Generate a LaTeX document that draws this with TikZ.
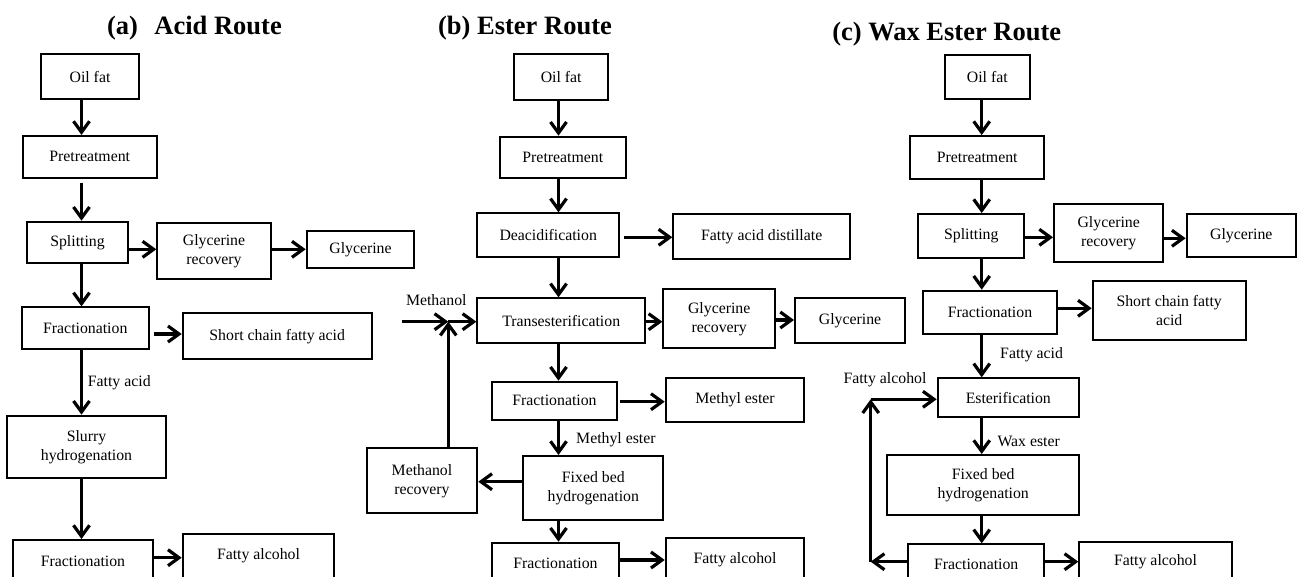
\documentclass[tikz,border=0pt]{standalone}
\usepackage{fontspec}
\setmainfont{Liberation Serif}
\usetikzlibrary{arrows.meta}
\tikzset{
  box/.style={draw, line width=2pt, inner sep=0pt, align=center, font=\fontsize{15.8}{19}\selectfont},
  arr/.style={line width=3.2pt, -{Straight Barb[length=11pt,width=16pt]}},
  lbl/.style={inner sep=0pt, font=\fontsize{15.8}{19}\selectfont},
  ttl/.style={inner sep=0pt, anchor=base, font=\fontsize{26.5}{30}\selectfont\bfseries},
}
\begin{document}
\begin{tikzpicture}[x=1pt,y=-1pt]
\clip (0,0) rectangle (1300,576);
\fill[white] (0,0) rectangle (1300,576);

% ---------- titles
\node[ttl] (ta) at (194.5,34.3) {(a)\hspace{0.62em}Acid Route};
\node[ttl] (tb) at (525,34.3) {(b) Ester Route};
\node[ttl] (tc) at (946.7,40.7) {(c) Wax Ester Route};

% ---------- (a) Acid route
\node[box, minimum width=98pt,  minimum height=45pt]   (a1) at (90,76.7)   {Oil fat};
\node[box, minimum width=134pt, minimum height=41.7pt] (a2) at (89.7,156.8) {Pretreatment};
\node[box, minimum width=101.6pt, minimum height=41.6pt] (a3) at (77.5,242.5) {Splitting};
\node[box, minimum width=113.4pt, minimum height=56.3pt] (a4) at (214,250.8) {Glycerine\\recovery};
\node[box, minimum width=107.6pt, minimum height=37.3pt] (a5) at (360.5,249.7) {Glycerine};
\node[box, minimum width=127.3pt, minimum height=41.7pt] (a6) at (85.3,328.2) {Fractionation};
\node[box, minimum width=189pt, minimum height=46pt]   (a7) at (277.2,336.3) {Short chain fatty acid};
\node[box, minimum width=158.4pt, minimum height=62.6pt] (a8) at (86.5,447) {Slurry\\hydrogenation};
\node[box, minimum width=139.4pt, minimum height=42pt] (a9) at (83,561) {Fractionation};
\node[box, minimum width=151.6pt, minimum height=44pt] (a10) at (258.5,556) {Fatty alcohol};
\node[lbl, anchor=west] (la1) at (87.7,383) {Fatty acid};

\coordinate (xa) at (81.5,0);
\coordinate (ya34) at (0,249.3);
\coordinate (ya67) at (0,334);
\coordinate (ya910) at (0,557.7);
\draw[arr] (a1.south -| xa) -- (a2.north -| xa);
\draw[arr] ([yshift=-4pt]a2.south -| xa) -- (a3.north -| xa);
\draw[arr] (a3.south -| xa) -- (a6.north -| xa);
\draw[arr] (a6.south -| xa) -- (a8.north -| xa);
\draw[arr] (a8.south -| xa) -- (a9.north -| xa);
\draw[arr] (a3.east |- ya34) -- (a4.west |- ya34);
\draw[arr] (a4.east |- ya34) -- (a5.west |- ya34);
\draw[arr] ([xshift=4pt]a6.east |- ya67) -- (a7.west |- ya67);
\draw[arr] (a9.east |- ya910) -- (a10.west |- ya910);

% ---------- (b) Ester route
\node[box, minimum width=94.3pt,  minimum height=45.7pt] (b1) at (561.2,77.2) {Oil fat};
\node[box, minimum width=125.7pt, minimum height=41.6pt] (b2) at (562.8,157.5) {Pretreatment};
\node[box, minimum width=141.7pt, minimum height=43.4pt] (b3) at (548.2,235) {Deacidification};
\node[box, minimum width=176.7pt, minimum height=45pt]   (b4) at (761.7,236.8) {Fatty acid distillate};
\node[box, minimum width=167.7pt, minimum height=45pt]   (b5) at (561.2,320.8) {Transesterification};
\node[box, minimum width=111.7pt, minimum height=59pt]   (b6) at (719.2,318.8) {Glycerine\\recovery};
\node[box, minimum width=110pt,   minimum height=45pt]   (b7) at (850,320.8) {Glycerine};
\node[box, minimum width=125.6pt, minimum height=38.3pt] (b8) at (554.5,400.8) {Fractionation};
\node[box, minimum width=138.6pt, minimum height=44pt]   (b9) at (735,399.7) {Methyl ester};
\node[box, minimum width=140pt,   minimum height=64pt]   (b10) at (593.3,488) {Fixed bed\\hydrogenation};
\node[box, minimum width=110.6pt, minimum height=65pt]   (b11) at (422,480.8) {Methanol\\recovery};
\node[box, minimum width=127.6pt, minimum height=41pt]   (b12) at (555.5,563.2) {Fractionation};
\node[box, minimum width=138.6pt, minimum height=42pt]   (b13) at (735,559.3) {Fatty alcohol};
\node[lbl] (lb1) at (436.3,300) {Methanol};
\node[lbl, anchor=west] (lb2) at (576,440) {Methyl ester};

\coordinate (xb) at (558.5,0);
\coordinate (yb34) at (0,237.3);
\coordinate (yb56) at (0,321.7);
\coordinate (yb67) at (0,320);
\coordinate (yb89) at (0,401.7);
\coordinate (yb1011) at (0,481.7);
\coordinate (yb1213) at (0,560);
\coordinate (mstart) at (401.7,321.7);
\coordinate (mj) at (448.3,321.7);
\draw[arr] (b1.south -| xb) -- (b2.north -| xb);
\draw[arr] (b2.south -| xb) -- (b3.north -| xb);
\draw[arr] (b3.south -| xb) -- (b5.north -| xb);
\draw[arr] (b5.south -| xb) -- (b8.north -| xb);
\draw[arr] (b8.south -| xb) -- (b10.north -| xb);
\draw[arr] (b10.south -| xb) -- (b12.north -| xb);
\draw[arr] ([xshift=4pt]b3.east |- yb34) -- (b4.west |- yb34);
\draw[arr] (b5.east |- yb56) -- (b6.west |- yb56);
\draw[arr] (b6.east |- yb67) -- (b7.west |- yb67);
\draw[arr] ([xshift=2pt]b8.east |- yb89) -- (b9.west |- yb89);
\draw[arr] (b10.west |- yb1011) -- (b11.east |- yb1011);
\draw[arr] (b12.east |- yb1213) -- (b13.west |- yb1213);
\draw[arr] (mstart) -- (mj);
\draw[arr] (mj) -- (b5.west |- mj);
\draw[arr] (b11.north -| mj) -- (mj);

% ---------- (c) Wax ester route
\node[box, minimum width=85.3pt,  minimum height=43.7pt] (c1) at (987.3,76.8) {Oil fat};
\node[box, minimum width=134.3pt, minimum height=43.3pt] (c2) at (977.2,157.7) {Pretreatment};
\node[box, minimum width=106pt,   minimum height=44.3pt] (c3) at (971.3,236.2) {Splitting};
\node[box, minimum width=109.3pt, minimum height=57.7pt] (c4) at (1108.7,232.8) {Glycerine\\recovery};
\node[box, minimum width=109.3pt, minimum height=42.7pt] (c5) at (1241.3,235.3) {Glycerine};
\node[box, minimum width=133.4pt, minimum height=43.3pt] (c6) at (990,312.3) {Fractionation};
\node[box, minimum width=153pt,   minimum height=59pt]   (c7) at (1169.2,310.5) {Short chain fatty\\acid};
\node[box, minimum width=141.3pt, minimum height=39pt]   (c8) at (1008.3,397.8) {Esterification};
\node[box, minimum width=191.7pt, minimum height=60pt]   (c9) at (983.2,485) {Fixed bed\\hydrogenation};
\node[box, minimum width=135.7pt, minimum height=40pt]   (c10) at (976.2,564.3) {Fractionation};
\node[box, minimum width=152.4pt, minimum height=40pt]   (c11) at (1155.5,561.7) {Fatty alcohol};
\node[lbl, anchor=west] (lc1) at (1000,355) {Fatty acid};
\node[lbl] (lc2) at (885,380) {Fatty alcohol};
\node[lbl, anchor=west] (lc3) at (997.3,441) {Wax ester};

\coordinate (xc) at (981.7,0);
\coordinate (yc34) at (0,237.3);
\coordinate (yc45) at (0,238.3);
\coordinate (yc67) at (0,308.3);
\coordinate (yc1011) at (0,561.7);
\coordinate (cb) at (870.7,561.7);
\coordinate (ct) at (870.7,399.3);
\draw[arr] (c1.south -| xc) -- (c2.north -| xc);
\draw[arr] (c2.south -| xc) -- (c3.north -| xc);
\draw[arr] (c3.south -| xc) -- (c6.north -| xc);
\draw[arr] (c6.south -| xc) -- (c8.north -| xc);
\draw[arr] (c8.south -| xc) -- (c9.north -| xc);
\draw[arr] (c9.south -| xc) -- (c10.north -| xc);
\draw[arr] (c3.east |- yc34) -- (c4.west |- yc34);
\draw[arr] (c4.east |- yc45) -- (c5.west |- yc45);
\draw[arr] (c6.east |- yc67) -- (c7.west |- yc67);
\draw[arr] (c10.east |- yc1011) -- (c11.west |- yc1011);
\draw[arr] (c10.west |- cb) -- (cb);
\draw[arr] (cb) -- (ct);
\draw[arr] (ct) -- (c8.west |- ct);
\end{tikzpicture}
\end{document}
